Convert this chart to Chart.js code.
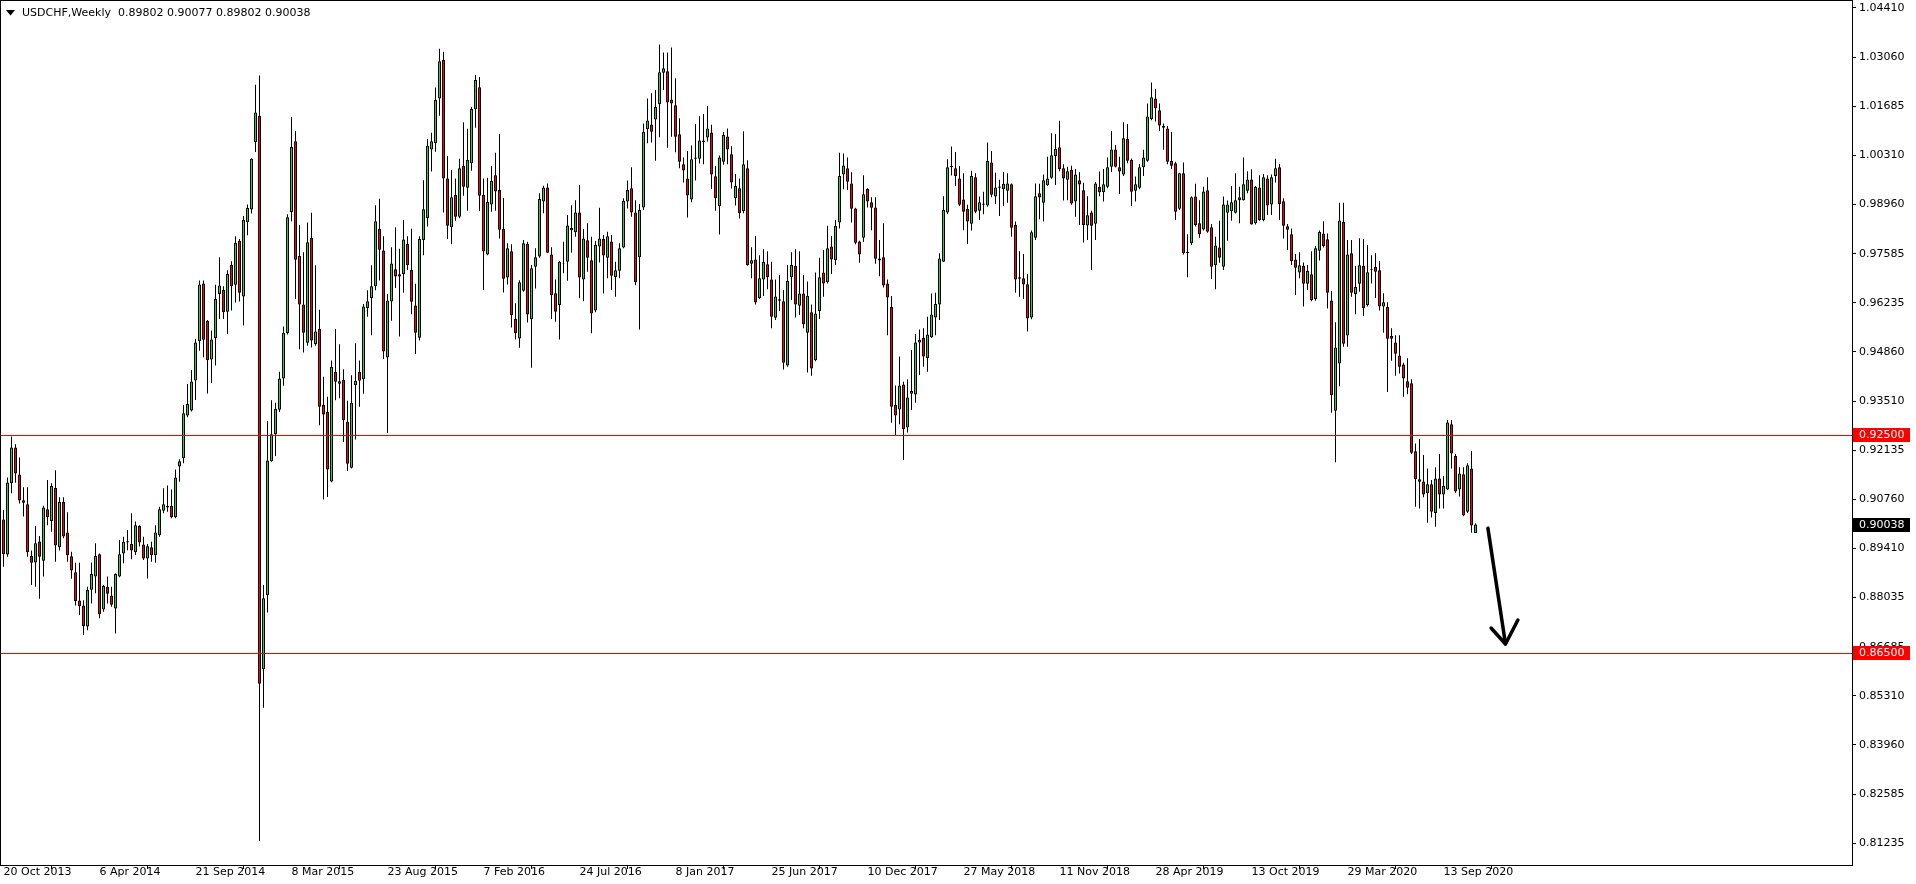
<!DOCTYPE html>
<html><head><meta charset="utf-8">
<script src="https://cdn.jsdelivr.net/npm/chart.js@4.4.1/dist/chart.umd.min.js"></script>
<style>html,body{margin:0;padding:0;background:#fff;overflow:hidden}canvas{display:block}</style>
</head><body>
<canvas id="c" width="1916" height="884" style="width:1916px;height:884px"></canvas>
<script>
// ---- DATA (weekly candles, first week = 20 Oct 2013) ----
const symbolTitle = 'USDCHF,Weekly';
const lastQuote = ['0.89802', '0.90077', '0.89802', '0.90038'];
const open = [
.9018,.8921,.9118,.9217,.9142,.9071,.9060,.8917,.8899,.8957,.8904,.9046,.9014,.9105,.8941,.9066,.8982,.8916,.8872,.8794,
.8780,.8722,.8824,.8860,.8922,.8769,.8832,.8808,.8772,.8860,.8924,.8958,.8950,.8927,.9000,.8949,.8910,.8941,.8919,.8974,
.9042,.9051,.9056,.9024,.9164,.9187,.9305,.9319,.9402,.9510,.9670,.9567,.9460,.9519,.9641,.9652,.9592,.9721,.9666,.9788,
.9634,.9839,.9874,1.0060,1.0133,.8604,.8809,.9179,.9253,.9321,.9407,.9533,.9867,1.0063,.9746,.9612,.9506,.9796,.9502,.9544,
.9335,.9315,.9123,.9426,.9393,.9404,.9288,.9161,.9389,.9426,.9405,.9602,.9630,.9662,.9821,.9761,.9465,.9620,.9709,.9695,
.9696,.9779,.9707,.9609,.9520,.9790,.9850,1.0040,1.0057,1.0181,1.0287,.9960,.9825,.9914,.9854,.9994,.9934,1.0002,1.0151,1.0212,
.9914,.9750,.9888,.9969,.9928,.9820,.9686,.9759,.9572,.9518,.9650,.9779,.9571,.9716,.9744,.9896,.9935,.9750,.9643,.9610,
.9724,.9730,.9817,.9811,.9866,.9681,.9789,.9734,.9595,.9772,.9793,.9741,.9786,.9688,.9705,.9769,.9896,.9933,.9866,.9742,
.9880,1.0096,1.0109,1.0123,1.0165,1.0252,1.0256,1.0178,1.0162,1.0082,.9999,.9960,.9902,1.0014,1.0014,1.0060,1.0073,1.0087,.9966,.9883,
1.0006,1.0076,1.0027,.9905,.9933,.9869,.9988,.9724,.9736,.9629,.9681,.9723,.9681,.9575,.9626,.9621,.9443,.9687,.9718,.9608,
.9642,.9534,.9590,.9458,.9594,.9700,.9673,.9772,.9734,.9838,.9971,.9988,.9946,.9877,.9786,.9796,.9931,.9894,.9880,.9733,
.9742,.9670,.9605,.9335,.9322,.9391,.9272,.9365,.9363,.9507,.9520,.9463,.9521,.9576,.9612,.9730,.9866,.9991,.9988,.9960,
.9902,.9876,.9835,.9963,.9871,.9887,.9885,1.0004,.9910,.9938,.9931,.9926,.9944,.9831,.9687,.9684,.9668,.9576,.9796,.9919,
.9893,.9941,.9962,1.0022,1.0046,.9988,.9956,.9983,.9896,.9955,.9927,.9830,.9866,.9835,.9936,.9922,.9937,.9992,1.0040,.9991,
.9971,1.0069,1.0011,.9926,.9934,.9991,1.0009,1.0124,1.0181,1.0148,1.0105,1.0098,1.0008,1.0002,.9876,.9974,.9757,.9781,.9910,.9836,
.9819,.9927,.9825,.9720,.9769,.9716,.9865,.9869,.9865,.9908,.9900,.9926,.9957,.9836,.9935,.9845,.9960,.9888,.9967,.9991,
.9897,.9828,.9806,.9736,.9700,.9719,.9669,.9695,.9627,.9760,.9808,.9792,.9623,.9318,.9449,.9840,.9526,.9753,.9641,.9669,
.9718,.9610,.9708,.9715,.9706,.9606,.9605,.9525,.9507,.9471,.9446,.9400,.9394,.9206,.9129,.9123,.9090,.9115,.9036,.9131,
.9087,.9101,.9281,.9193,.9101,.9143,.9039,.9159,.89802];
const high = [
.9044,.9134,.9247,.9226,.9189,.9107,.9107,.8932,.9000,.8972,.9056,.9127,.9118,.9154,.9079,.9079,.9038,.8929,.8898,.8898,
.8795,.8832,.8899,.8952,.8924,.8837,.8860,.8832,.8869,.8961,.8970,.8989,.9035,.9012,.9002,.8970,.8950,.8956,.9002,.9053,
.9104,.9112,.9101,.9156,.9184,.9334,.9392,.9431,.9517,.9678,.9678,.9569,.9540,.9666,.9742,.9662,.9706,.9731,.9800,.9793,
.9856,.9888,1.0016,1.0219,1.0244,.8837,.9290,.9347,.9340,.9426,.9551,.9861,1.0130,1.0091,.9831,.9756,.9838,.9865,.9720,.9597,
.9412,.9357,.9457,.9544,.9502,.9433,.9346,.9416,.9505,.9457,.9613,.9651,.9720,.9886,.9904,.9800,.9641,.9770,.9825,.9766,
.9845,.9800,.9821,.9669,.9800,.9955,1.0069,1.0086,1.0211,1.0318,1.0310,1.0022,.9983,.9960,1.0014,1.0115,1.0097,1.0157,1.0246,1.0240,
.9960,.9962,.9994,1.0031,1.0083,.9906,.9781,.9778,.9615,.9679,.9790,.9785,.9721,.9767,.9919,.9940,.9946,.9770,.9681,.9732,
.9785,.9859,.9886,.9900,.9942,.9820,.9836,.9799,.9787,.9879,.9804,.9813,.9804,.9730,.9781,.9905,.9954,.9991,.9900,.9889,
1.0112,1.0181,1.0195,1.0204,1.0330,1.0308,1.0308,1.0322,1.0237,1.0126,1.0018,1.0036,1.0051,1.0110,1.0132,1.0138,1.0160,1.0108,.9994,1.0023,
1.0088,1.0098,1.0049,.9972,.9960,1.0090,1.0010,.9770,.9801,.9748,.9764,.9759,.9730,.9681,.9693,.9652,.9721,.9756,.9764,.9759,
.9693,.9675,.9612,.9700,.9741,.9762,.9829,.9801,.9845,1.0031,1.0029,1.0018,.9977,.9879,.9788,.9969,.9933,.9908,.9908,.9790,
.9836,.9681,.9635,.9388,.9468,.9398,.9405,.9486,.9530,.9543,.9546,.9578,.9642,.9644,.9753,.9911,1.0013,1.0048,1.0033,.9994,
.9974,.9887,.9981,.9974,.9910,.9923,1.0059,1.0036,.9976,.9956,.9978,.9974,.9946,.9841,.9759,.9751,.9696,.9816,.9946,.9945,
.9971,1.0020,1.0085,1.0083,1.0119,.9999,.9992,.9995,.9986,.9977,.9948,.9911,.9871,.9950,.9979,.9986,1.0018,1.0091,1.0052,1.0020,
1.0115,1.0110,1.0015,.9965,1.0000,1.0039,1.0167,1.0225,1.0207,1.0167,1.0112,1.0105,1.0088,1.0006,.9976,1.0004,.9806,.9911,.9945,.9900,
.9937,.9963,.9834,.9799,.9843,.9910,.9899,.9939,.9974,.9937,1.0018,.9980,.9985,.9939,.9969,.9972,.9969,.9971,1.0014,1.0000,
.9905,.9834,.9822,.9751,.9756,.9728,.9721,.9759,.9773,.9816,.9842,.9808,.9649,.9563,.9893,.9893,.9790,.9790,.9718,.9795,
.9793,.9776,.9748,.9753,.9732,.9643,.9618,.9546,.9527,.9527,.9451,.9463,.9405,.9228,.9240,.9196,.9159,.9127,.9162,.9199,
.9138,.9293,.9293,.9199,.9162,.9162,.9173,.9207,.90077];
const low = [
.8887,.8915,.9090,.9119,.9062,.9026,.8915,.8837,.8832,.8799,.8860,.9002,.8984,.8901,.8932,.8966,.8901,.8854,.8780,.8754,
.8699,.8712,.8786,.8814,.8745,.8763,.8786,.8777,.8703,.8858,.8897,.8933,.8908,.8920,.8943,.8906,.8855,.8901,.8898,.8970,
.9035,.9039,.9021,.9021,.9122,.9173,.9300,.9316,.9348,.9484,.9466,.9366,.9395,.9443,.9572,.9572,.9530,.9595,.9617,.9620,
.9554,.9803,.9863,1.0033,.8130,.8498,.8761,.9177,.9193,.9315,.9387,.9529,.9842,.9627,.9488,.9479,.9498,.9493,.9498,.9278,
.9073,.9080,.9121,.9347,.9353,.9232,.9152,.9159,.9239,.9329,.9365,.9578,.9527,.9651,.9678,.9461,.9257,.9567,.9657,.9523,
.9644,.9707,.9585,.9475,.9512,.9748,.9827,.9979,1.0034,1.0133,.9866,.9793,.9778,.9843,.9850,.9912,.9871,.9981,1.0100,.9870,
.9652,.9748,.9868,.9871,.9794,.9645,.9667,.9548,.9515,.9492,.9647,.9562,.9437,.9656,.9741,.9864,.9753,.9572,.9564,.9515,
.9698,.9677,.9755,.9799,.9629,.9621,.9702,.9532,.9590,.9728,.9642,.9684,.9652,.9633,.9684,.9767,.9877,.9854,.9665,.9543,
.9873,1.0057,1.0059,1.0009,1.0074,1.0204,1.0045,1.0075,1.0032,.9988,.9949,.9852,.9894,.9954,1.0001,.9999,1.0062,.9931,.9871,.9805,
.9998,.9999,.9932,.9885,.9849,.9864,.9719,.9684,.9612,.9627,.9635,.9654,.9546,.9569,.9594,.9432,.9440,.9624,.9576,.9583,
.9546,.9424,.9415,.9455,.9572,.9633,.9670,.9696,.9721,.9822,.9930,.9928,.9838,.9778,.9727,.9785,.9880,.9817,.9724,.9690,
.9659,.9527,.9285,.9251,.9281,.9182,.9258,.9320,.9340,.9417,.9440,.9426,.9519,.9527,.9569,.9729,.9862,.9968,.9939,.9884,
.9817,.9779,.9816,.9864,.9845,.9861,.9882,.9908,.9889,.9856,.9884,.9893,.9799,.9644,.9633,.9627,.9537,.9571,.9790,.9847,
.9841,.9939,.9959,.9942,.9980,.9899,.9900,.9887,.9854,.9831,.9783,.9790,.9707,.9790,.9911,.9896,.9933,.9978,.9990,.9917,
.9967,1.0002,.9884,.9896,.9930,.9967,1.0006,1.0121,1.0117,1.0091,1.0039,.9999,.9986,.9845,.9873,.9750,.9687,.9776,.9827,.9796,
.9816,.9810,.9682,.9654,.9727,.9707,.9788,.9843,.9863,.9836,.9899,.9919,.9833,.9833,.9843,.9842,.9859,.9859,.9949,.9845,
.9794,.9762,.9721,.9638,.9684,.9606,.9652,.9621,.9622,.9733,.9769,.9601,.9313,.9176,.9386,.9495,.9495,.9633,.9585,.9647,
.9580,.9606,.9670,.9630,.9595,.9534,.9370,.9456,.9415,.9421,.9357,.9364,.9199,.9053,.9048,.9079,.9009,.9023,.8998,.9048,
.9048,.9099,.9159,.9092,.9081,.9027,.9036,.8981,.89802];
const close = [
.8922,.9120,.9217,.9145,.9070,.9064,.8927,.8898,.8952,.8915,.9051,.9024,.9110,.8946,.9066,.8971,.8919,.8877,.8793,.8778,
.8723,.8823,.8867,.8917,.8756,.8834,.8813,.8782,.8867,.8922,.8956,.8954,.8932,.9002,.8954,.8910,.8944,.8919,.8982,.9046,
.9060,.9056,.9024,.9134,.9179,.9311,.9337,.9399,.9507,.9667,.9514,.9458,.9515,.9627,.9664,.9590,.9696,.9662,.9782,.9644,
.9845,.9878,1.0014,1.0142,.8564,.8800,.9181,.9253,.9324,.9407,.9534,.9853,1.0047,.9735,.9612,.9534,.9784,.9512,.9537,.9329,
.9308,.9156,.9440,.9398,.9400,.9292,.9172,.9340,.9401,.9401,.9606,.9621,.9662,.9842,.9763,.9482,.9623,.9725,.9689,.9689,
.9791,.9721,.9619,.9534,.9793,.9875,1.0050,1.0063,1.0177,1.0284,.9960,.9829,.9908,.9854,.9988,.9937,1.0011,1.0152,1.0232,.9912,
.9758,.9895,.9953,.9924,.9818,.9683,.9767,.9582,.9532,.9673,.9781,.9584,.9712,.9742,.9903,.9935,.9755,.9637,.9592,.9730,
.9726,.9830,.9823,.9866,.9686,.9794,.9741,.9587,.9776,.9794,.9747,.9800,.9691,.9706,.9767,.9898,.9928,.9866,.9673,.9873,
1.0089,1.0120,1.0089,1.0157,1.0253,1.0264,1.0170,1.0167,1.0075,1.0006,.9982,.9913,1.0013,1.0018,1.0065,1.0065,1.0098,.9971,.9905,1.0018,
1.0080,1.0040,.9949,.9939,.9864,.9999,.9721,.9734,.9617,.9684,.9730,.9687,.9578,.9634,.9622,.9451,.9677,.9721,.9612,.9642,
.9557,.9636,.9435,.9587,.9687,.9670,.9767,.9736,.9829,.9967,.9996,.9951,.9876,.9782,.9750,.9916,.9896,.9879,.9738,.9739,
.9664,.9631,.9329,.9305,.9388,.9267,.9355,.9373,.9507,.9514,.9468,.9529,.9584,.9613,.9739,.9873,.9991,.9994,.9967,.9887,
.9868,.9841,.9967,.9868,.9894,.9891,1.0008,.9915,.9935,.9934,.9945,.9946,.9824,.9681,.9683,.9667,.9573,.9811,.9911,.9907,
.9955,.9960,1.0024,1.0042,.9986,.9960,.9980,.9891,.9971,.9943,.9831,.9858,.9829,.9946,.9922,.9944,.9991,1.0040,.9992,.9979,
1.0071,1.0009,.9923,.9944,.9991,1.0018,1.0131,1.0184,1.0154,1.0106,1.0100,1.0006,.9995,.9868,.9974,.9753,.9754,.9908,.9831,.9806,
.9924,.9813,.9716,.9775,.9741,.9888,.9888,.9894,.9900,.9900,.9944,.9957,.9833,.9936,.9845,.9963,.9885,.9963,.9988,.9889,
.9829,.9818,.9732,.9713,.9720,.9669,.9704,.9624,.9767,.9812,.9773,.9644,.9362,.9493,.9844,.9503,.9750,.9644,.9660,.9720,
.9602,.9701,.9710,.9702,.9606,.9618,.9517,.9517,.9476,.9440,.9407,.9382,.9202,.9130,.9122,.9087,.9115,.9039,.9131,.9087,
.9111,.9286,.9200,.9095,.9145,.9029,.9168,.9001,.90038];
const xTickIndex = [0,24,48,72,96,120,144,168,192,216,240,264,288,312,336,360];
const xTickLabels = ['20 Oct 2013','6 Apr 2014','21 Sep 2014','8 Mar 2015','23 Aug 2015','7 Feb 2016','24 Jul 2016','8 Jan 2017',
  '25 Jun 2017','10 Dec 2017','27 May 2018','11 Nov 2018','28 Apr 2019','13 Oct 2019','29 Mar 2020','13 Sep 2020'];
// price-scale labels as printed by the terminal (top to bottom); the terminal spaces them evenly on screen
const yTickLabels = ['1.04410','1.03060','1.01685','1.00310','0.98960','0.97585','0.96235','0.94860','0.93510','0.92135',
  '0.90760','0.89410','0.88035','0.86685','0.85310','0.83960','0.82585','0.81235'];
const yLabelTopPrice = 1.04308, yLabelBottomPrice = 0.81235;  // where the first and last labels sit
const levelPrices = [0.92500, 0.86500];
const arrowLine = [[371.1, 0.8994], [375.5, 0.8674]];
const arrowHeadEnds = [[371.9, 0.8718], [378.6, 0.8740]];

// ---- CHART ----
const FONT = 'DejaVu Sans';
const bodies = open.map((o, i) => ({x: i, y: [Math.min(o, close[i]), Math.max(o, close[i])]}));
const wicks = open.map((o, i) => ({x: i, y: [low[i], high[i]]}));
const bodyColors = open.map((o, i) => close[i] >= o ? '#32CD32' : '#FF0000');
const nY = yTickLabels.length;
const yTickPos = yTickLabels.map((t, k) => yLabelTopPrice - k * (yLabelTopPrice - yLabelBottomPrice) / (nY - 1));

const overlay = {
  id: 'overlay',
  afterDatasetsDraw(chart) {
    const {ctx, chartArea: a, scales: {x, y}} = chart;
    ctx.save();
    ctx.strokeStyle = '#FF0000'; ctx.lineWidth = 1;
    levelPrices.forEach(p => {
      const py = Math.round(y.getPixelForValue(p)) + 0.5;
      ctx.beginPath(); ctx.moveTo(a.left, py); ctx.lineTo(a.right, py); ctx.stroke();
    });
    ctx.strokeStyle = '#000'; ctx.lineWidth = 3.5; ctx.lineCap = 'round'; ctx.lineJoin = 'round';
    const tip = [x.getPixelForValue(arrowLine[1][0]), y.getPixelForValue(arrowLine[1][1])];
    ctx.beginPath();
    ctx.moveTo(x.getPixelForValue(arrowLine[0][0]), y.getPixelForValue(arrowLine[0][1]));
    ctx.lineTo(tip[0], tip[1]); ctx.stroke();
    ctx.beginPath();
    ctx.moveTo(x.getPixelForValue(arrowHeadEnds[0][0]), y.getPixelForValue(arrowHeadEnds[0][1]));
    ctx.lineTo(tip[0], tip[1]);
    ctx.lineTo(x.getPixelForValue(arrowHeadEnds[1][0]), y.getPixelForValue(arrowHeadEnds[1][1]));
    ctx.stroke();
    ctx.restore();
  },
  afterDraw(chart) {
    const {ctx, chartArea: a, scales: {y}} = chart;
    ctx.save();
    ctx.strokeStyle = '#000'; ctx.lineWidth = 1;
    ctx.strokeRect(a.left + 0.5, a.top + 0.5, a.right - a.left, a.bottom - a.top);
    ctx.fillStyle = '#000';
    ctx.beginPath(); ctx.moveTo(6, 10); ctx.lineTo(15, 10); ctx.lineTo(10.5, 15.5); ctx.closePath(); ctx.fill();
    ctx.font = '11px "' + FONT + '"'; ctx.textBaseline = 'middle'; ctx.textAlign = 'left';
    ctx.fillText(symbolTitle + '  ' + lastQuote.join(' '), 22, 13);
    const box = (p, bg, txt) => {
      const py = Math.round(y.getPixelForValue(p));
      ctx.fillStyle = bg; ctx.fillRect(a.right + 1, py - 7, 57, 14);
      ctx.fillStyle = '#fff'; ctx.fillText(txt, a.right + 7, py + 0.5);
    };
    levelPrices.forEach(p => box(p, '#FF0000', p.toFixed(5)));
    box(close[close.length - 1], '#000', close[close.length - 1].toFixed(5));
    ctx.restore();
  }
};

new Chart(document.getElementById('c').getContext('2d'), {
  type: 'bar',
  data: {datasets: [
    {data: wicks, backgroundColor: '#000', borderWidth: 0, barThickness: 1, grouped: false, order: 2, inflateAmount: 0},
    {data: bodies, backgroundColor: bodyColors, borderColor: '#000', borderWidth: 1, borderSkipped: false,
     barThickness: 3, grouped: false, order: 1, inflateAmount: 0}
  ]},
  options: {
    responsive: false, animation: false, devicePixelRatio: 1,
    layout: {padding: 0},
    plugins: {legend: {display: false}, tooltip: {enabled: false}},
    scales: {
      x: {
        type: 'linear', min: -0.875, max: 462.125, offset: false,
        grid: {display: true, drawOnChartArea: false, drawTicks: true, tickLength: 4, color: '#000', lineWidth: 1},
        border: {display: true, color: '#000', width: 1},
        ticks: {autoSkip: false, maxRotation: 0, minRotation: 0, align: 'start', padding: -3, color: '#000',
                font: {family: FONT, size: 11},
                callback: v => { const k = xTickIndex.indexOf(v); return k >= 0 ? xTickLabels[k] : ''; }},
        afterBuildTicks: s => { s.ticks = xTickIndex.map(v => ({value: v})); },
        afterFit: s => { s.height = 19; s.paddingLeft = 0; s.paddingRight = 0; }
      },
      y: {
        type: 'linear', position: 'right', min: 0.806338, max: 1.045288,
        grid: {display: true, drawOnChartArea: false, drawTicks: true, tickLength: 4, color: '#000', lineWidth: 1},
        border: {display: true, color: '#000', width: 1},
        ticks: {padding: 3, color: '#000', font: {family: FONT, size: 11}, callback: (v, i) => yTickLabels[i]},
        afterBuildTicks: s => { s.ticks = yTickPos.map(v => ({value: v})); },
        afterFit: s => { s.width = 64; s.paddingTop = 0; s.paddingBottom = 0; }
      }
    }
  },
  plugins: [overlay]
});
</script>
</body></html>
